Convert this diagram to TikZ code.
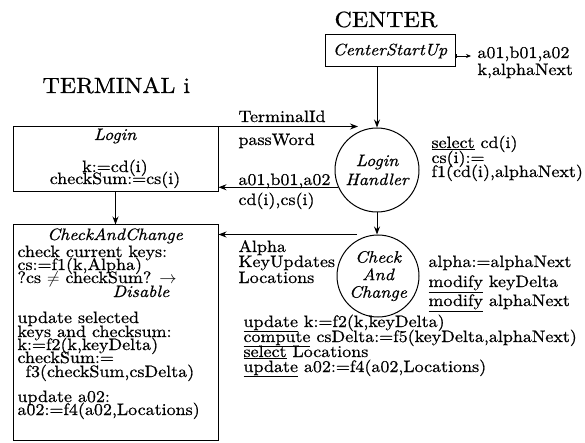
\documentclass[tikz,border=0pt]{standalone}
\usepackage{fontspec}
\setmainfont{lmroman10}[Extension=.otf, UprightFont=*-regular, ItalicFont=*-italic, BoldFont=*-bold, BoldItalicFont=*-bolditalic, FakeStretch=1.09, FakeBold=0.7]
\usetikzlibrary{arrows.meta}
\newcommand\txtsz{\fontsize{16.5}{15}\selectfont}
\newcommand\headsz{\fontsize{22}{24}\selectfont}
\begin{document}
\begin{tikzpicture}[x=1pt,y=-1pt,
  line width=1pt,
  >={Stealth[length=8pt,width=6pt]},
  lbl/.style={inner sep=0pt, anchor=base west, font=\txtsz},
  clbl/.style={inner sep=0pt, anchor=base, font=\txtsz},
  head/.style={inner sep=0pt, anchor=base, font=\headsz},
  box/.style={draw, rectangle, inner sep=0pt},
  proc/.style={draw, circle, inner sep=0pt, align=center}
]
\useasboundingbox (0,0) rectangle (585,443);

% headings
\node[head] (hcenter) at (386,27) {CENTER};
\node[head, anchor=base west] (hterm) at (42,93) {TERMINAL i};

% boxes
\node[box, minimum width=130pt, minimum height=32pt, font=\txtsz\itshape] (css) at (390,51) {CenterStartUp};
\node[box, minimum width=205pt, minimum height=65pt] (login) at (115.5,159.5) {};
\node[box, minimum width=205pt, minimum height=215pt] (cab) at (115.5,332.5) {};

% circles
\node[proc, minimum size=84pt, font=\fontsize{16.5}{19}\selectfont\itshape] (lh) at (377,170) {Login\\Handler};
\node[proc, minimum size=82pt, font=\fontsize{16.5}{17.5}\selectfont\itshape] (cc) at (378,276) {Check\\And\\Change};

% connectors
\coordinate (cssout) at (471,56);
\draw[{Bar[width=4pt,line width=0.6pt]}-{Stealth[length=5pt,width=4pt]}, line width=0.6pt] ([yshift=-5pt]css.east) -- (cssout);
\draw[->] (lh.north |- css.south) -- (lh.north);
\coordinate (tin) at ([xshift=-19pt]lh.north);
\draw[->] (login.north east) -- (login.north east -| tin);
\draw[->] (lh.204) -- (lh.204 -| login.east);
\draw[->] (lh.south) -- (lh.south |- cc.north);
\draw[->] (login.south) -- (cab.north);
\coordinate (cco) at ([xshift=-21pt]cc.north);
\draw[->] (cco) -- (cco -| cab.east);

% labels near CenterStartUp
\node[lbl] (o1) at (477,58) {a01,b01,a02};
\node[lbl] (o2) at (477,75) {k,alphaNext};

% labels on arrows
\node[lbl] (t1) at (238,122) {TerminalId};
\node[lbl] (t2) at (238,145) {passWord};
\node[lbl] (r1) at (238,185) {a01,b01,a02};
\node[lbl] (r2) at (238,205) {cd(i),cs(i)};
\node[lbl] (k1) at (238,252) {Alpha};
\node[lbl] (k2) at (238,267) {KeyUpdates};
\node[lbl] (k3) at (238,283) {Locations};

% right of Login Handler
\node[lbl] (s1) at (431,148) {\underline{select} cd(i)};
\node[lbl] (s2) at (431,163) {cs(i):=};
\node[lbl] (s3) at (431,177) {f1(cd(i),alphaNext)};

% right of Check And Change
\node[lbl] (m1) at (428,267) {alpha:=alphaNext};
\node[lbl] (m2) at (428,287) {\underline{modify} keyDelta};
\node[lbl] (m3) at (428,306) {\underline{modify} alphaNext};

% bottom
\node[lbl] (b1) at (243,327) {\underline{update} k:=f2(k,keyDelta)};
\node[lbl] (b2) at (243,342) {\underline{compute} csDelta:=f5(keyDelta,alphaNext)};
\node[lbl] (b3) at (243,357) {\underline{select} Locations};
\node[lbl] (b4) at (243,372) {\underline{update} a02:=f4(a02,Locations)};

% Login box text
\node[clbl, font=\txtsz\itshape] (l0) at (115,140) {Login};
\node[clbl] (l1) at (115,172) {k:=cd(i)};
\node[clbl] (l2) at (115,184) {checkSum:=cs(i)};

% CheckAndChange box text
\node[clbl, font=\txtsz\itshape] (c0) at (115,240) {CheckAndChange};
\node[lbl] (c1) at (17,257) {check current keys:};
\node[lbl] (c2) at (17,270) {cs:=f1(k,Alpha)};
\node[lbl] (c3) at (17,283) {?cs $\neq$ checkSum? $\rightarrow$};
\node[lbl, font=\txtsz\itshape] (c4) at (112,297) {Disable};
\node[lbl] (c5) at (17,323) {update selected};
\node[lbl] (c6) at (17,337) {keys and checksum:};
\node[lbl] (c7) at (17,350) {k:=f2(k,keyDelta)};
\node[lbl] (c8) at (17,363) {checkSum:=};
\node[lbl] (c9) at (25,377) {f3(checkSum,csDelta)};
\node[lbl] (c10) at (17,402) {update a02:};
\node[lbl] (c11) at (17,415) {a02:=f4(a02,Locations)};
\end{tikzpicture}
\end{document}
